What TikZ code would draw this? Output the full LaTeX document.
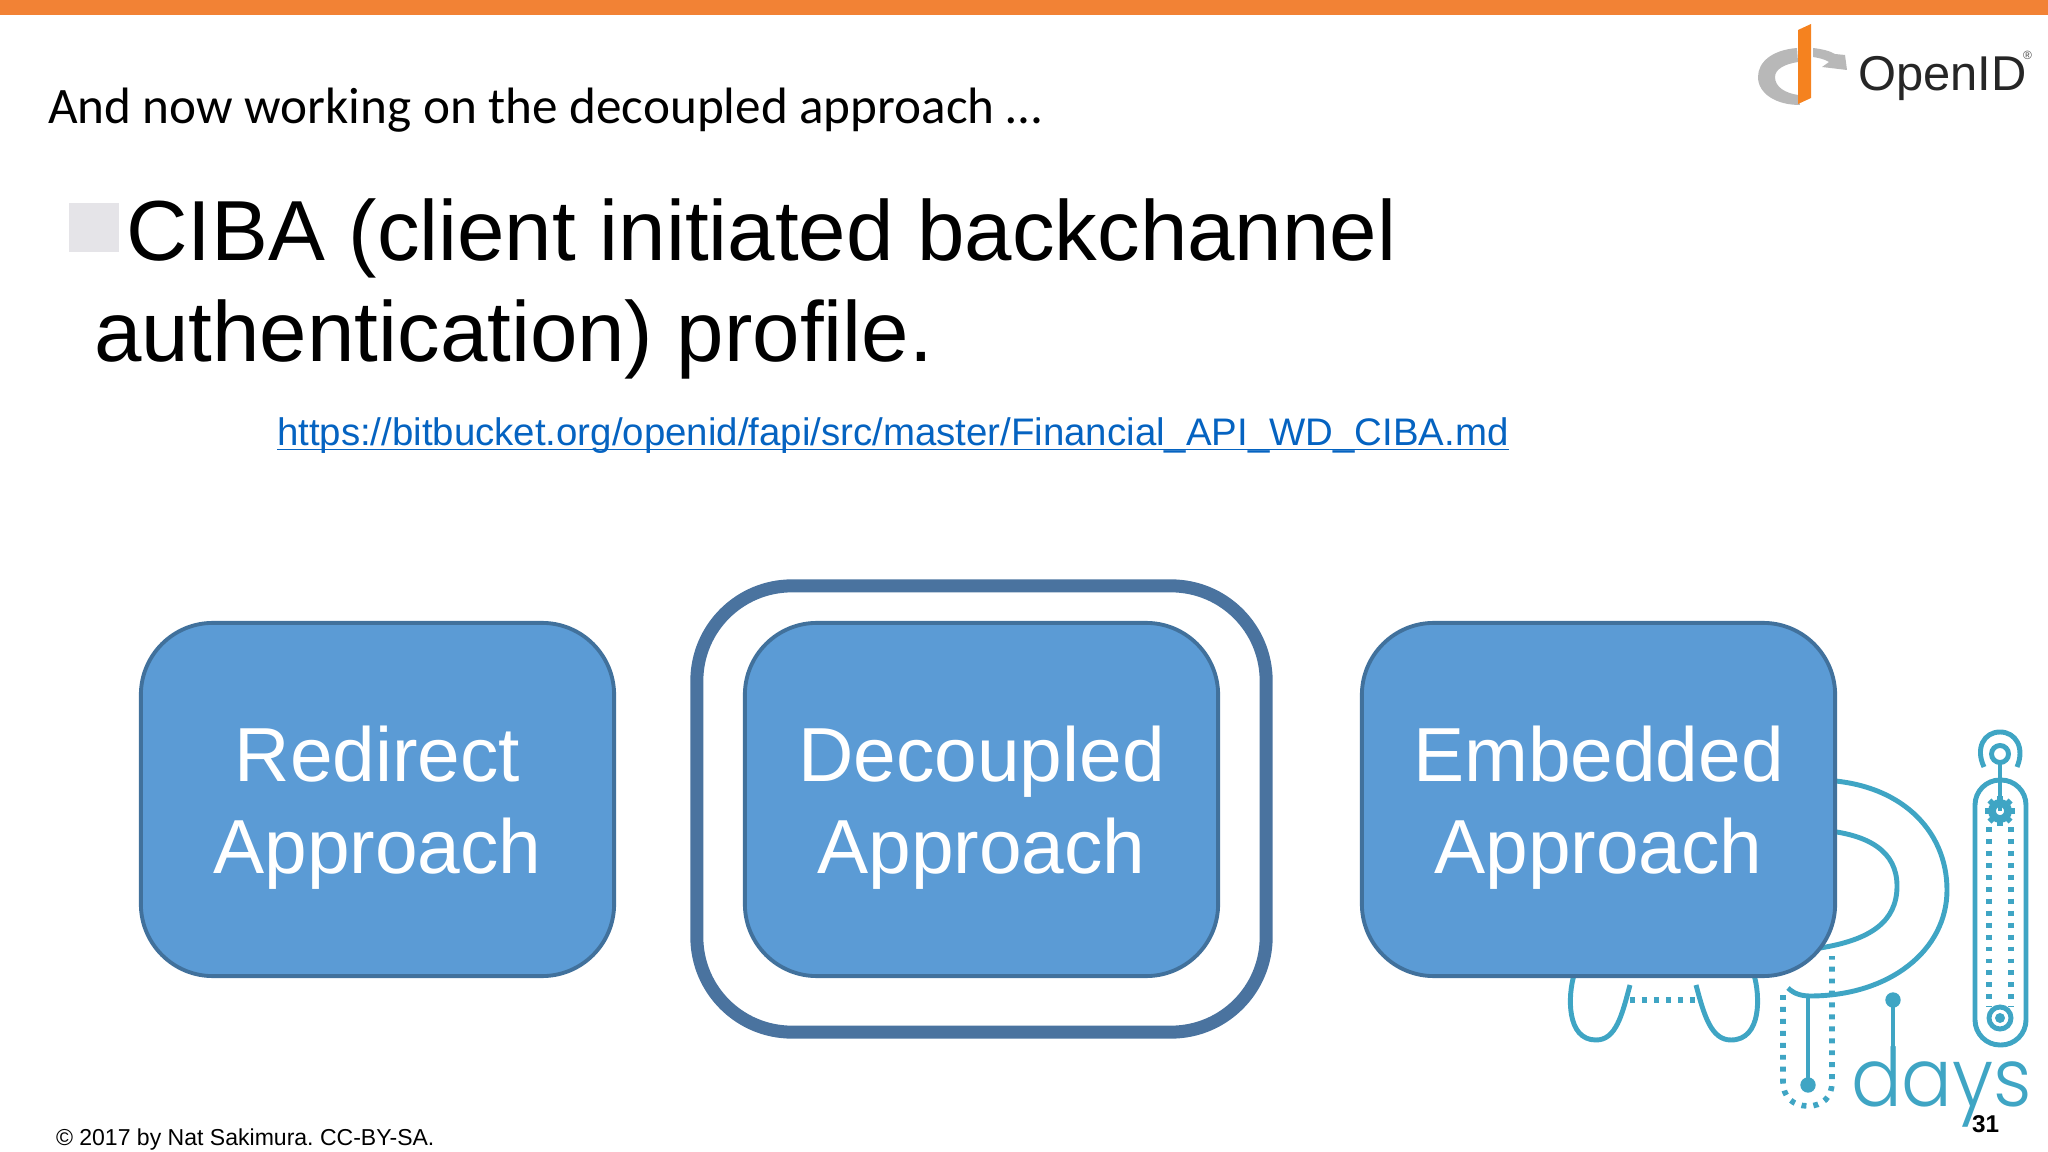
\documentclass[tikz,border=0pt]{standalone}
\usepackage{fontspec}
\setmainfont{Liberation Sans}
\newfontfamily\titlefont{Carlito}
\newfontfamily\daysfont{Poppins Light}
\definecolor{barorange}{HTML}{F28235}
\definecolor{logoorange}{HTML}{F5821F}
\definecolor{boxblue}{HTML}{5B9BD5}
\definecolor{boxedge}{HTML}{41719C}
\definecolor{ringblue}{HTML}{4A739F}
\definecolor{linkblue}{HTML}{0563C1}
\definecolor{daysteal}{HTML}{3FA5C4}
\definecolor{bulletgrey}{HTML}{E5E4E8}
\definecolor{arcgrey}{HTML}{B8B8B8}
\tikzset{
  approach/.style={draw=boxedge, fill=boxblue, line width=1.1pt, rounded corners=0.72cm, minimum width=4.73cm, minimum height=3.53cm, inner sep=0pt, outer sep=0pt, text=white, align=center, text depth=0pt, font=\fontsize{21.8pt}{26.2pt}\selectfont},
  linetext/.style={anchor=base west, inner sep=0pt, outer sep=0pt},
  tealline/.style={draw=daysteal, line width=1.4pt},
  tealdots/.style={draw=daysteal, line width=1.6pt, dash pattern=on 1.4pt off 2pt}
}
\begin{document}
\begin{tikzpicture}[x=0.01cm, y=-0.01cm]
\useasboundingbox (0,0) rectangle (2048,1152);
\fill [barorange] (0,0) rectangle (2048,15);
\fill [arcgrey] (1797,48) .. controls (1772,50) and (1758,62) .. (1758,77) .. controls (1758,93) and (1775,105) .. (1800,105) -- (1798,95) .. controls (1785,93) and (1775,87) .. (1775,77) .. controls (1775,69) and (1785,64) .. (1798,62) -- cycle;
\fill [arcgrey] (1813,48) .. controls (1822,49) and (1830,51) .. (1835,54) -- (1845,55) -- (1847,70) -- (1822,67) -- (1829,62) .. controls (1824,59) and (1819,58) .. (1813,57) -- cycle;
\fill [logoorange] (1798,30) -- (1811,24) -- (1811,98) -- (1798,104) -- cycle;
\node [linetext, font=\fontsize{13.9pt}{13.9pt}\selectfont, text=black!85] (openid) at (1858,91) {OpenID};
\node [linetext, font=\fontsize{3.4pt}{3.4pt}\selectfont, text=black!70] (regmark) at (2023,60) {®};
\node [linetext, font=\titlefont\fontsize{14.55pt}{14.55pt}\selectfont] (title) at (48,124) {And now working on the decoupled approach …};
\fill [bulletgrey] (69,203) rectangle (119,252);
\node [linetext, font=\fontsize{24.25pt}{24.25pt}\selectfont] (ciba) at (126,261) {CIBA (client initiated backchannel};
\node [linetext, font=\fontsize{24.25pt}{24.25pt}\selectfont] (profile) at (94,362) {authentication) profile.};
\node [linetext, font=\fontsize{10.92pt}{10.92pt}\selectfont, text=linkblue] (url) at (277,446) {https://bitbucket.org/openid/fapi/src/master/Financial\_API\_WD\_CIBA.md};
\draw [linkblue, line width=0.35pt] ([yshift=-1.1pt]url.base west) -- ([yshift=-1.1pt]url.base east);
\draw [tealline] (1820,780) .. controls (1900,782) and (1947,830) .. (1947,890) .. controls (1947,950) and (1890,996) .. (1810,996) .. controls (1802,996) and (1794,994) .. (1788,988);
\draw [tealline] (1820,830) .. controls (1870,834) and (1897,852) .. (1897,886) .. controls (1897,922) and (1870,940) .. (1820,948);
\draw [tealline] (1808,996) -- (1808,1085);
\fill [daysteal] (1808,1085) circle [radius=7.7];
\draw [tealdots] (1783,995) -- (1783,1082) .. controls (1783,1097) and (1793,1106) .. (1808,1106) .. controls (1823,1106) and (1832,1097) .. (1832,1082) -- (1832,956);
\draw [tealline] (1574,975) .. controls (1568,995) and (1566,1040) .. (1596,1040) .. controls (1616,1040) and (1622,1015) .. (1630,985);
\draw [tealline] (1696,985) .. controls (1704,1015) and (1711,1040) .. (1731,1040) .. controls (1762,1040) and (1760,995) .. (1754,975);
\draw [tealdots] (1630,1000) -- (1700,1000);
\fill [daysteal] (1893,1000) circle [radius=7.7];
\draw [tealline] (1893,1000) -- (1893,1080);
\node [linetext, font=\daysfont\fontsize{23pt}{23pt}\selectfont, text=daysteal, xscale=0.93] (days) at (1851,1106) {days};
\draw [tealline, rounded corners=0.25cm] (1975,780) rectangle (2026,1045);
\draw [tealline] (2000,754) circle [radius=8.5];
\draw [tealline] (1984,767) .. controls (1975,748) and (1984,732) .. (2000,732) .. controls (2016,732) and (2025,748) .. (2017,767);
\draw [tealline] (2000,762) -- (2000,811);
\draw [draw=daysteal, line width=2.2pt] (2000,811) circle [radius=8];
\foreach \toothangle in {0,45,...,315} {
\draw [daysteal, line width=1.6pt] (2000,811) ++(\toothangle:9) -- ++(\toothangle:6);
}
\draw [tealdots] (1989,827) -- (1989,1007);
\draw [tealdots] (2011,827) -- (2011,1007);
\draw [tealline] (2000,1018) circle [radius=11];
\fill [daysteal] (2000,1018) circle [radius=5];
\node [approach] (redirect) at (377.5,799.5) {Redirect\\Approach};
\node [draw=ringblue, line width=3.7pt, rounded corners=0.95cm, minimum width=5.69cm, minimum height=4.46cm, inner sep=0pt, outer sep=0pt] (decoupledring) at (981.5,809) {};
\node [approach] (decoupled) at (981.5,799.5) {Decoupled\\Approach};
\node [approach] (embedded) at (1598.5,799.5) {Embedded\\Approach};
\node [linetext, font=\frenchspacing\fontsize{6.55pt}{6.55pt}\selectfont] (copyright) at (56,1145) {© 2017 by Nat Sakimura. CC-BY-SA.};
\node [linetext, font=\bfseries\fontsize{6.9pt}{6.9pt}\selectfont] (pagenum) at (1972,1132) {31};
\end{tikzpicture}
\end{document}
